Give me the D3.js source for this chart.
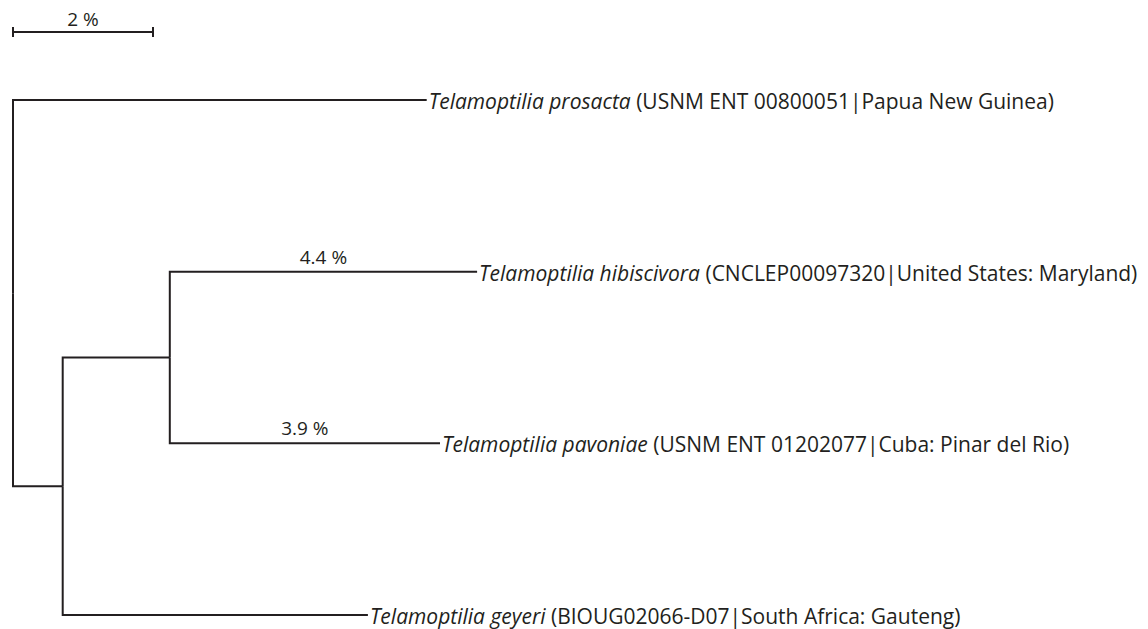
<!DOCTYPE html>
<html lang="en">
<head>
    <meta charset="UTF-8">
    <title>Telamoptilia tree</title>
    <script src="https://d3js.org/d3.v7.min.js"></script>
    <style>
        body { margin: 0; background: #fff; font-family: "Open Sans", Arial, sans-serif; }
        svg { display: block; }
    </style>
</head>
<body>
    <svg id="tree" width="1148" height="629"></svg>
    <script>
        // tree structure: node names, parent, branch length in %
        const nodeNames = ["root", "A", "B", "prosacta", "geyeri", "hibiscivora", "pavoniae"];
        const nodeParents = [null, "root", "A", "root", "A", "B", "B"];
        const branchLengths = [0, 0.71, 1.53, 5.91, 4.36, 4.39, 3.86];
        const branchLabels = ["", "", "", "", "", "4.4 %", "3.9 %"];

        // leaf order top to bottom with label text
        const leafOrder = ["prosacta", "hibiscivora", "pavoniae", "geyeri"];
        const leafSpecies = [
            "Telamoptilia prosacta",
            "Telamoptilia hibiscivora",
            "Telamoptilia pavoniae",
            "Telamoptilia geyeri"
        ];
        const leafVoucher = [
            " (USNM ENT 00800051|Papua New Guinea)",
            " (CNCLEP00097320|United States: Maryland)",
            " (USNM ENT 01202077|Cuba: Pinar del Rio)",
            " (BIOUG02066-D07|South Africa: Gauteng)"
        ];
        const scaleBarValue = 2;
        const scaleBarLabel = "2 %";

        const ink = "#231f20";
        const svg = d3.select("#tree");

        const table = nodeNames.map((name, i) => ({
            name, parent: nodeParents[i], length: branchLengths[i], label: branchLabels[i]
        }));
        const root = d3.stratify().id(d => d.name).parentId(d => d.parent)(table);

        root.eachBefore(n => { n.depthPct = n.parent ? n.parent.depthPct + n.data.length : 0; });

        const x = d3.scaleLinear().domain([0, 1]).range([13, 83]);
        const y = d3.scalePoint().domain(leafOrder).range([100, 615]);

        root.eachAfter(n => {
            n.py = n.children ? d3.mean([d3.min(n.children, c => c.py), d3.max(n.children, c => c.py)]) : y(n.id);
        });

        const g = svg.append("g");

        // elbow links
        g.selectAll("path.link")
            .data(root.links())
            .join("path")
            .attr("class", "link")
            .attr("fill", "none")
            .attr("stroke", ink)
            .attr("stroke-width", 2)
            .attr("d", d => `M${x(d.source.depthPct)},${d.source.py}V${d.target.py}H${x(d.target.depthPct)}`);

        // branch labels
        g.selectAll("text.blabel")
            .data(root.descendants().filter(n => n.data.label))
            .join("text")
            .attr("class", "blabel")
            .attr("x", d => (x(d.parent.depthPct) + x(d.depthPct)) / 2)
            .attr("y", d => d.py - 8)
            .attr("text-anchor", "middle")
            .attr("fill", ink)
            .style("font-size", "19px")
            .text(d => d.data.label);

        // leaf labels
        const leafText = g.selectAll("text.leaf")
            .data(root.leaves())
            .join("text")
            .attr("class", "leaf")
            .attr("x", d => x(d.depthPct) + 2)
            .attr("y", d => d.py + 9)
            .attr("fill", ink)
            .style("font-size", "21px");
        leafText.append("tspan")
            .style("font-style", "italic")
            .text(d => leafSpecies[leafOrder.indexOf(d.id)]);
        leafText.append("tspan")
            .text(d => leafVoucher[leafOrder.indexOf(d.id)]);

        // scale bar
        const sb = svg.append("g").attr("transform", "translate(0,32)");
        sb.append("path")
            .attr("fill", "none")
            .attr("stroke", ink)
            .attr("stroke-width", 2)
            .attr("d", `M${x(0)},-5V5M${x(0)},0H${x(scaleBarValue)}M${x(scaleBarValue)},-5V5`);
        sb.append("text")
            .attr("x", (x(0) + x(scaleBarValue)) / 2)
            .attr("y", -6)
            .attr("text-anchor", "middle")
            .attr("fill", ink)
            .style("font-size", "19px")
            .text(scaleBarLabel);
    </script>
</body>
</html>
